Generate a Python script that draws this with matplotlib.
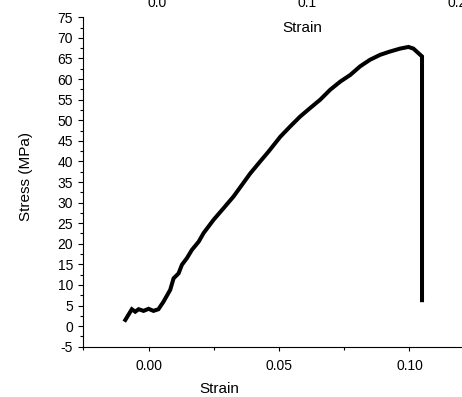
import matplotlib
matplotlib.use("Agg")
import matplotlib.pyplot as plt
from matplotlib.ticker import MultipleLocator, FormatStrFormatter

plt.rcParams["font.family"] = ["Liberation Sans", "DejaVu Sans"]
plt.rcParams["axes.unicode_minus"] = False

# Stress-strain curve
strain = [-0.0089, -0.0064, -0.0051, -0.0038, -0.0019, 0.0, 0.0019, 0.0038,
          0.0057, 0.0083, 0.0096, 0.0115, 0.0128, 0.0147, 0.0166, 0.0192,
          0.0211, 0.0249, 0.0287, 0.0326, 0.0358, 0.0390, 0.0428, 0.0460,
          0.0505, 0.0543, 0.0581, 0.0620, 0.0658, 0.0696, 0.0735, 0.0773,
          0.0811, 0.0849, 0.0888, 0.0926, 0.0964, 0.0996, 0.1015, 0.1048,
          0.1048]
stress = [1.5, 4.1, 3.5, 4.1, 3.7, 4.2, 3.7, 4.1,
          5.9, 8.8, 11.6, 12.8, 14.9, 16.5, 18.5, 20.5,
          22.6, 25.8, 28.6, 31.5, 34.3, 37.1, 40.0, 42.4,
          46.0, 48.5, 50.9, 53.0, 55.0, 57.4, 59.4, 61.0,
          63.1, 64.7, 65.9, 66.7, 67.4, 67.8, 67.4, 65.5,
          6.3]

# ticks of the cropped panel above
top_ticks = [0.0, 0.1, 0.2]

fig = plt.figure(figsize=(4.62, 3.97), dpi=100)
ax = fig.add_axes([0.1803, 0.1267, 0.819, 0.8297])

ax.plot(strain, stress, color="black", linewidth=2.9, solid_joinstyle="miter")

ax.set_xlim(-0.025, 0.12)
ax.set_ylim(-5, 75)
ax.xaxis.set_major_locator(MultipleLocator(0.05))
ax.xaxis.set_minor_locator(MultipleLocator(0.025))
ax.xaxis.set_major_formatter(FormatStrFormatter("%.2f"))
ax.yaxis.set_major_locator(MultipleLocator(5))
ax.yaxis.set_minor_locator(MultipleLocator(2.5))

for s in ["top", "right"]:
    ax.spines[s].set_visible(False)
for s in ["left", "bottom"]:
    ax.spines[s].set_linewidth(0.8)

ax.tick_params(axis="both", which="both", direction="out", width=0.8, labelsize=10)
ax.tick_params(axis="y", which="major", length=3.8, pad=3.5)
ax.tick_params(axis="y", which="minor", length=2.2)
ax.tick_params(axis="x", which="major", length=3, pad=6)
ax.tick_params(axis="x", which="minor", length=2)

ax.set_xlabel("Strain", fontsize=11)
ax.set_ylabel("Stress (MPa)", fontsize=11)
ax.xaxis.set_label_coords(0.359, -0.108)
ax.yaxis.set_label_coords(-0.132, 0.517)

# bottom edge of the panel above, mostly cropped away
ax_top = fig.add_axes([157 / 462, 1.0227, 300 / 462, 0.1])
ax_top.set_xlim(0.0, 0.2)
ax_top.set_xticks(top_ticks)
ax_top.xaxis.set_major_formatter(FormatStrFormatter("%.1f"))
ax_top.set_yticks([])
ax_top.patch.set_visible(False)
for s in ax_top.spines.values():
    s.set_visible(False)
ax_top.tick_params(axis="x", length=0, pad=3.5, labelsize=10)
ax_top.set_xlabel("Strain", fontsize=11)
ax_top.xaxis.set_label_coords(0.483, -0.756)

fig.savefig("out.png", dpi=100)
